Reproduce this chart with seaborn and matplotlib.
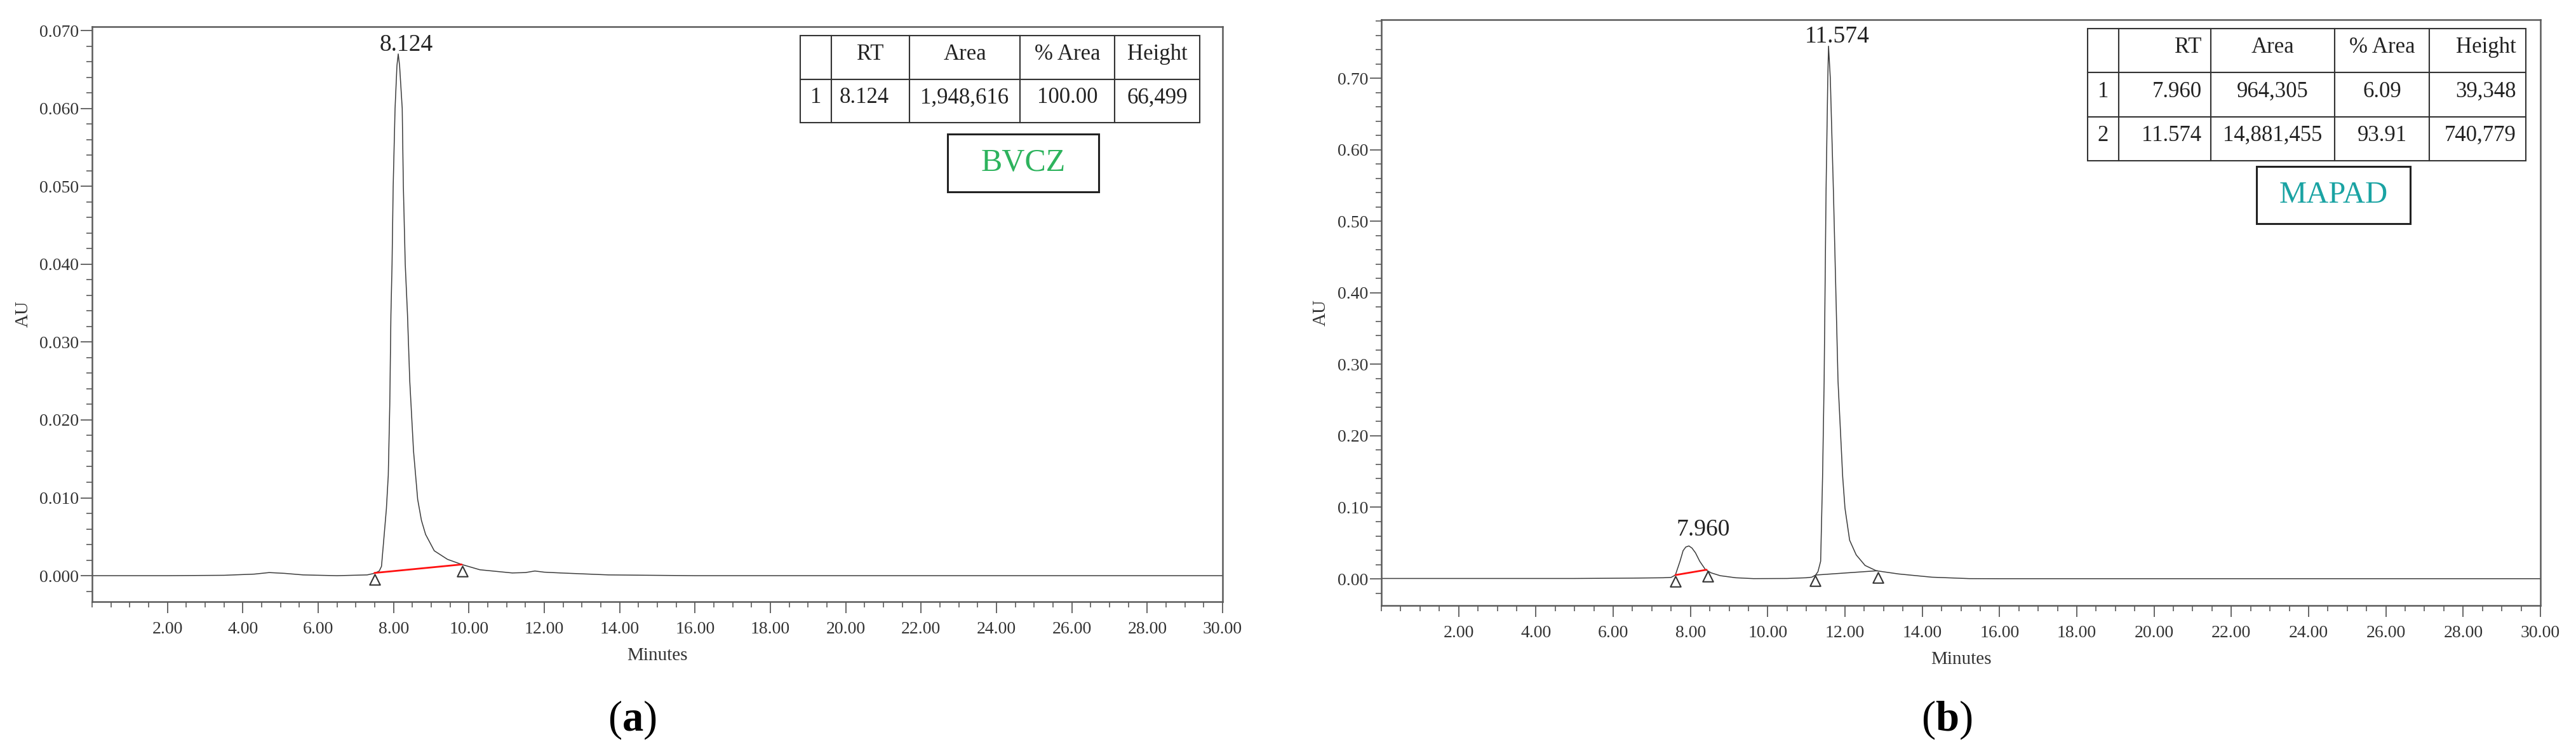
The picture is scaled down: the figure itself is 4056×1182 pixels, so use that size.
import numpy as np
import seaborn as sns
import matplotlib.pyplot as plt
from matplotlib.patches import Rectangle
from matplotlib.table import Table
from matplotlib.transforms import Affine2D
from matplotlib.ticker import MultipleLocator, FixedLocator, FormatStrFormatter

# --- data ---
# (a) BVCZ trace
time_a = [0.0, 2.0, 3.5, 4.3, 4.7, 5.1, 5.6, 6.5, 7.3, 7.49,
          7.62, 7.68, 7.74, 7.81, 7.86, 7.90, 7.93, 7.96, 7.99, 8.04,
          8.09, 8.124, 8.16, 8.23, 8.26, 8.31, 8.37, 8.43, 8.53, 8.64,
          8.74, 8.85, 9.08, 9.43, 9.81, 10.29, 11.15, 11.5, 11.75, 12.0,
          12.43, 13.7, 16.0, 30.0]
au_a = [0.0, 0.0, 0.00005, 0.0002, 0.0004, 0.0003, 0.0001, 0.0, 0.0001, 0.0003,
        0.0006, 0.0012, 0.0046, 0.0086, 0.0129, 0.022, 0.0335, 0.040, 0.050, 0.060,
        0.0655, 0.0670, 0.0655, 0.060, 0.050, 0.040, 0.0335, 0.025, 0.016, 0.0098,
        0.0071, 0.0053, 0.0032, 0.0021, 0.00144, 0.00076, 0.00035, 0.0004, 0.0006, 0.00045,
        0.00035, 0.0001, 0.0, 0.0]

# (b) MAPAD trace
time_b = [0.0, 5.0, 6.5, 7.3, 7.5, 7.61, 7.73, 7.81, 7.88, 7.96,
          8.04, 8.13, 8.24, 8.39, 8.54, 8.77, 9.17, 9.63, 10.5, 11.0,
          11.14, 11.24, 11.30, 11.37, 11.42, 11.46, 11.51, 11.555, 11.574, 11.62,
          11.70, 11.82, 11.94, 12.00, 12.12, 12.29, 12.52, 12.81, 13.39, 14.25,
          15.22, 16.0, 30.0]
au_b = [0.0005, 0.0005, 0.001, 0.0015, 0.002, 0.0053, 0.0246, 0.0394, 0.0445, 0.046,
        0.043, 0.0364, 0.0246, 0.0127, 0.0083, 0.0044, 0.0015, 0.0003, 0.0005, 0.0015,
        0.0023, 0.0053, 0.010, 0.0246, 0.143, 0.276, 0.543, 0.70, 0.745, 0.70,
        0.543, 0.276, 0.143, 0.0987, 0.054, 0.0335, 0.0187, 0.0113, 0.0068, 0.0023,
        0.0003, 0.0002, 0.0002]

# integration baselines and peak start/end markers
red_a_t, red_a_au = [7.49, 9.81], [0.00035, 0.00144]
tri_a_t, tri_a_au = [7.50, 9.83], [-0.00046, 0.00055]
red_b_t, red_b_au = [7.61, 8.42], [0.0053, 0.0127]
drop_b_t, drop_b_au = [11.24, 12.84], [0.0053, 0.0113]
tri_b_t, tri_b_au = [7.61, 8.45, 11.22, 12.86], [-0.0036, 0.0038, -0.0027, 0.0015]

# peak labels
peak_a_rt, peak_a_h = [8.124], [0.0670]
peak_b_rt, peak_b_h = [7.960, 11.574], [0.046, 0.745]

# result tables
table_head = ['', 'RT', 'Area', '% Area', 'Height']
rows_a = [['1', '8.124', '1,948,616', '100.00', '66,499']]
rows_b = [['1', '7.960', '964,305', '6.09', '39,348'],
          ['2', '11.574', '14,881,455', '93.91', '740,779']]

x_major = [2, 4, 6, 8, 10, 12, 14, 16, 18, 20, 22, 24, 26, 28, 30]

# --- style ---
sns.set_theme(style="white")
plt.rcParams['font.family'] = ['Liberation Serif', 'DejaVu Serif']
plt.rcParams['mathtext.fontset'] = 'custom'
plt.rcParams['mathtext.rm'] = 'Liberation Serif'
plt.rcParams['mathtext.bf'] = 'Liberation Serif:bold'

W, H = 4056, 1182
fig = plt.figure(figsize=(W / 100, H / 100), dpi=100)
fig.patch.set_facecolor('white')

TRACE = '#3c3c3c'
SPINE = '#5a5a5a'


def px_axes(l, t, r, b):
    return [l / W, 1 - b / H, (r - l) / W, (b - t) / H]


def style_axes(ax, ylim, y_major, y_minor, yfmt):
    ax.set_xlim(0, 30)
    ax.set_ylim(*ylim)
    ax.xaxis.set_major_locator(FixedLocator(x_major))
    ax.xaxis.set_minor_locator(MultipleLocator(0.5))
    ax.xaxis.set_major_formatter(FormatStrFormatter('%.2f'))
    ax.yaxis.set_major_locator(MultipleLocator(y_major))
    ax.yaxis.set_minor_locator(MultipleLocator(y_minor))
    ax.yaxis.set_major_formatter(FormatStrFormatter(yfmt))
    for s in ax.spines.values():
        s.set_color(SPINE)
        s.set_linewidth(1.8)
    ax.tick_params(which='major', direction='out', length=13, width=1.3, color=SPINE,
                   labelsize=20, labelcolor='#333333', bottom=True, left=True)
    ax.tick_params(which='minor', direction='out', length=6.5, width=1.2, color=SPINE,
                   bottom=True, left=True)
    ax.tick_params(axis='x', which='major', pad=9)
    ax.tick_params(axis='y', which='major', pad=2)
    ax.grid(False)


def draw_table(ax, rows, bbox, col_w, head_loc, body_loc):
    tbl = Table(ax, bbox=bbox)
    n = len(rows) + 1
    for r, cells in enumerate([table_head] + rows):
        for c, txt in enumerate(cells):
            loc = head_loc[c] if r == 0 else body_loc[c]
            cell = tbl.add_cell(r, c, width=col_w[c], height=1.0 / n, text=txt, loc=loc,
                                edgecolor='#333333', facecolor='white')
            cell.set_linewidth(1.5)
            t = cell.get_text()
            t.set_fontsize(25)
            t.set_color('#222222')
            t.set_transform(Affine2D().translate(0, 5))
    tbl.auto_set_font_size(False)
    ax.add_table(tbl)


def name_box(ax, rect, text, color, size):
    x0, y0, w, h = rect
    ax.add_patch(Rectangle((x0, y0), w, h, transform=ax.transAxes, fill=False,
                           ec='#222222', lw=2.2, zorder=6))
    ax.text(x0 + w / 2, y0 + h / 2, text, transform=ax.transAxes, ha='center',
            va='center', fontsize=size, color=color, zorder=7)


# ---------------- panel (a) ----------------
ax_a = fig.add_axes(px_axes(145, 42, 1925, 947))
sns.lineplot(x=time_a, y=au_a, ax=ax_a, color=TRACE, linewidth=1.1, estimator=None, sort=False)
sns.lineplot(x=red_a_t, y=red_a_au, ax=ax_a, color='#ff1010', linewidth=2.0, estimator=None)
sns.scatterplot(x=tri_a_t, y=tri_a_au, ax=ax_a, marker='^', s=140, facecolor='white',
                edgecolor='#333333', linewidth=1.5, zorder=5)
style_axes(ax_a, (-0.00334, 0.0705), 0.010, 0.002, '%.3f')
for rt, h in zip(peak_a_rt, peak_a_h):
    ax_a.annotate(f'{rt:.3f}', xy=(rt, h), xytext=(9, 3.6), textcoords='offset points',
                  ha='center', va='baseline', fontsize=27, color='#222222')
ax_a.set_xlabel('Minutes', fontsize=21, color='#333333')
ax_a.xaxis.set_label_coords(0.5, -0.094)
ax_a.xaxis.label.set_va('center')
ax_a.set_ylabel('AU', fontsize=21, color='#333333')
ax_a.yaxis.set_label_coords(-0.061, 0.5)
ax_a.yaxis.label.set_va('center')
draw_table(ax_a, rows_a, [0.6264, 0.8331, 0.3534, 0.1514], [49, 123, 174, 149, 134],
           ['center'] * 5, ['center', 'left', 'center', 'center', 'center'])
name_box(ax_a, (0.7567, 0.7127, 0.1337, 0.1006), 'BVCZ', '#2db35d', 36)

# ---------------- panel (b) ----------------
ax_b = fig.add_axes(px_axes(2175, 31, 4000, 953))
sns.lineplot(x=time_b, y=au_b, ax=ax_b, color=TRACE, linewidth=1.1, estimator=None, sort=False)
sns.lineplot(x=drop_b_t, y=drop_b_au, ax=ax_b, color=TRACE, linewidth=1.1, estimator=None)
sns.lineplot(x=red_b_t, y=red_b_au, ax=ax_b, color='#ff1010', linewidth=2.0, estimator=None)
sns.scatterplot(x=tri_b_t, y=tri_b_au, ax=ax_b, marker='^', s=140, facecolor='white',
                edgecolor='#333333', linewidth=1.5, zorder=5)
style_axes(ax_b, (-0.0373, 0.782), 0.10, 0.02, '%.2f')
label_offsets = [(16, 12), (10, 4.3)]
for (rt, h), off in zip(zip(peak_b_rt, peak_b_h), label_offsets):
    ax_b.annotate(f'{rt:.3f}', xy=(rt, h), xytext=off, textcoords='offset points',
                  ha='center', va='baseline', fontsize=27, color='#222222')
ax_b.set_xlabel('Minutes', fontsize=21, color='#333333')
ax_b.xaxis.set_label_coords(0.5, -0.092)
ax_b.xaxis.label.set_va('center')
ax_b.set_ylabel('AU', fontsize=21, color='#333333')
ax_b.yaxis.set_label_coords(-0.052, 0.5)
ax_b.yaxis.label.set_va('center')
draw_table(ax_b, rows_b, [0.6093, 0.7592, 0.3781, 0.2256], [49, 145, 195, 149, 152],
           ['center', 'right', 'center', 'center', 'right'],
           ['center', 'right', 'center', 'center', 'right'])
name_box(ax_b, (0.7551, 0.6518, 0.1326, 0.0976), 'MAPAD', '#1aa3a3', 35)

# panel letters
fig.text(995 / W, 1 - 1133 / H, r'($\mathbf{a}$)', ha='center', va='center', fontsize=48, color='black')
fig.text(3065 / W, 1 - 1133 / H, r'($\mathbf{b}$)', ha='center', va='center', fontsize=48, color='black')

plt.savefig('out.png', dpi=100, facecolor='white')
